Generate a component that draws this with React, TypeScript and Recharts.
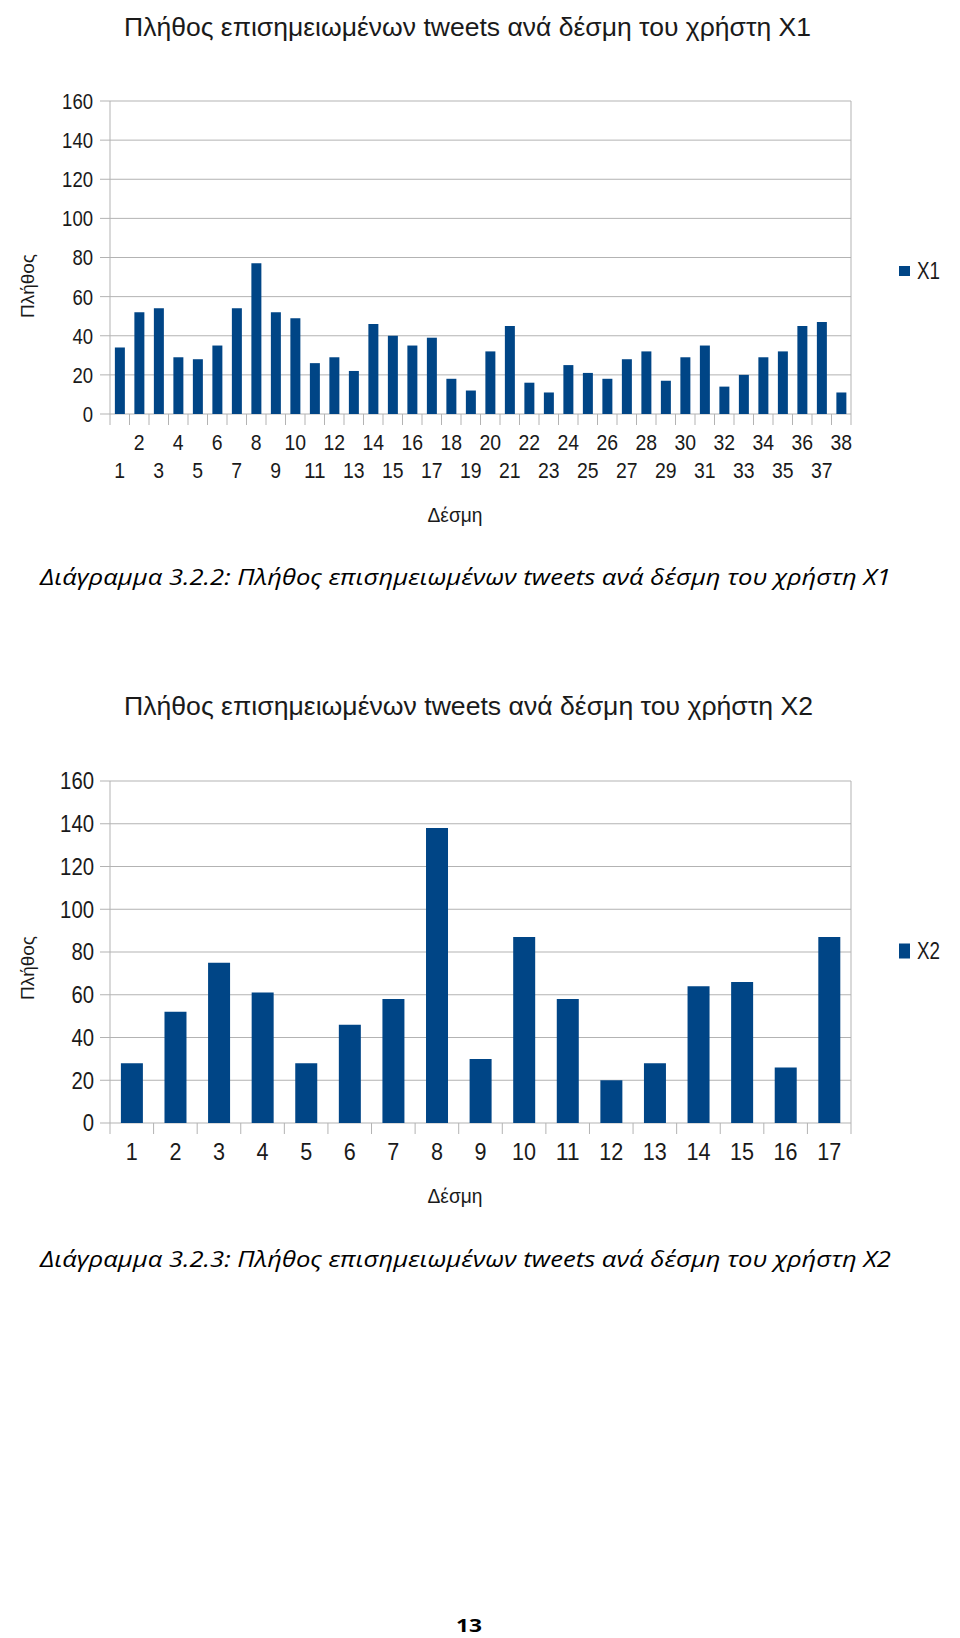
import React from 'react';
import { BarChart, Bar, XAxis, YAxis, CartesianGrid, Legend } from 'recharts';

// Batch numbers and tweet counts per user
const batchesX1 = ['1', '2', '3', '4', '5', '6', '7', '8', '9', '10', '11', '12', '13', '14', '15', '16', '17', '18', '19', '20', '21', '22', '23', '24', '25', '26', '27', '28', '29', '30', '31', '32', '33', '34', '35', '36', '37', '38'];
const countsX1 = [34, 52, 54, 29, 28, 35, 54, 77, 52, 49, 26, 29, 22, 46, 40, 35, 39, 18, 12, 32, 45, 16, 11, 25, 21, 18, 28, 32, 17, 29, 35, 14, 20, 29, 32, 45, 47, 11];

const batchesX2 = ['1', '2', '3', '4', '5', '6', '7', '8', '9', '10', '11', '12', '13', '14', '15', '16', '17'];
const countsX2 = [28, 52, 75, 61, 28, 46, 58, 138, 30, 87, 58, 20, 28, 64, 66, 26, 87];

const yTicks = [0, 20, 40, 60, 80, 100, 120, 140, 160];

const chartTitleX1 = 'Πλήθος επισημειωμένων tweets ανά δέσμη του χρήστη X1';
const chartTitleX2 = 'Πλήθος επισημειωμένων tweets ανά δέσμη του χρήστη X2';
const captionX1 = 'Διάγραμμα 3.2.2: Πλήθος επισημειωμένων tweets ανά δέσμη του χρήστη X1';
const captionX2 = 'Διάγραμμα 3.2.3: Πλήθος επισημειωμένων tweets ανά δέσμη του χρήστη X2';

const FONT = 'Liberation Sans';
const BAR_COLOR = '#004586';
const GRID = '#b3b3b3';
const INK = '#1a1a1a';
const PLOT_LEFT = 110;
const PLOT_RIGHT = 851;
const Y_AXIS_W = 60;
const X_AXIS_H = 40;

interface ChartProps {
  top: number;
  height: number;
  labels: string[];
  values: number[];
  name: string;
  plotTop: number;
  plotBottom: number;
  twoRows: boolean;
  rowBaselines: number[];
  tickFont: number;
  digitW: number;
  yFont: number;
  yDigitW: number;
  yLabelRight: number;
  xTitleBaseline: number;
  yTitleY: number;
  legendTop: number;
  legendSize: number;
}

const BatchChart: React.FC<ChartProps> = (p) => {
  const data = p.labels.map((l, i) => ({ batch: l, value: p.values[i] }));
  const n = p.labels.length;
  const band = (PLOT_RIGHT - PLOT_LEFT) / n;

  const XTick = (props: any) => {
    const { x, index, payload } = props;
    const text = String(payload.value);
    const row = p.twoRows ? (index % 2 === 0 ? 1 : 0) : 0;
    return (
      <g>
        <line x1={x - band / 2} x2={x - band / 2} y1={p.plotBottom} y2={p.plotBottom + 11} stroke={GRID} />
        {index === n - 1 && (
          <line x1={x + band / 2} x2={x + band / 2} y1={p.plotBottom} y2={p.plotBottom + 11} stroke={GRID} />
        )}
        <text
          x={x}
          y={p.rowBaselines[row]}
          textAnchor="middle"
          fontSize={p.tickFont}
          fontFamily={FONT}
          fill={INK}
          textLength={text.length * p.digitW}
          lengthAdjust="spacingAndGlyphs"
        >
          {text}
        </text>
      </g>
    );
  };

  const YTick = (props: any) => {
    const { y, payload } = props;
    const text = String(payload.value);
    return (
      <text
        x={p.yLabelRight}
        y={y + p.yFont * 0.36}
        textAnchor="end"
        fontSize={p.yFont}
        fontFamily={FONT}
        fill={INK}
        textLength={text.length * p.yDigitW}
        lengthAdjust="spacingAndGlyphs"
      >
        {text}
      </text>
    );
  };

  return (
    <div style={{ position: 'absolute', left: 0, top: p.top }}>
      <BarChart
        width={960}
        height={p.height}
        data={data}
        barCategoryGap="25%"
        margin={{
          top: p.plotTop,
          right: 960 - PLOT_RIGHT,
          left: PLOT_LEFT - Y_AXIS_W,
          bottom: p.height - p.plotBottom - X_AXIS_H,
        }}
      >
        <CartesianGrid stroke={GRID} vertical={true} verticalPoints={[PLOT_RIGHT]} />
        <XAxis
          dataKey="batch"
          interval={0}
          height={X_AXIS_H}
          axisLine={false}
          tickLine={false}
          tick={XTick}
          label={{
            content: () => (
              <text
                x={455}
                y={p.xTitleBaseline}
                textAnchor="middle"
                fontSize={20}
                fontFamily={FONT}
                fill={INK}
                textLength={55}
                lengthAdjust="spacingAndGlyphs"
              >
                Δέσμη
              </text>
            ),
          }}
        />
        <YAxis
          type="number"
          domain={[0, 160]}
          ticks={yTicks}
          interval={0}
          width={Y_AXIS_W}
          tickSize={10}
          axisLine={{ stroke: GRID }}
          tickLine={{ stroke: GRID }}
          tick={YTick}
          label={{
            content: () => (
              <text
                transform={`translate(34, ${p.yTitleY}) rotate(-90)`}
                textAnchor="middle"
                fontSize={19}
                fontFamily={FONT}
                fill={INK}
                textLength={64}
                lengthAdjust="spacingAndGlyphs"
              >
                Πλήθος
              </text>
            ),
          }}
        />
        <Legend
          layout="vertical"
          align="center"
          verticalAlign="middle"
          wrapperStyle={{ position: 'absolute', left: 896, top: p.legendTop, width: 60, height: 30 }}
          content={(lp: any) => {
            const item = lp.payload && lp.payload[0];
            return (
              <svg width={60} height={30}>
                <rect x={3} y={15 - p.legendSize / 2} width={11} height={p.legendSize} fill={BAR_COLOR} />
                <text
                  x={21}
                  y={23}
                  fontSize={24}
                  fontFamily={FONT}
                  fill={INK}
                  textLength={23}
                  lengthAdjust="spacingAndGlyphs"
                >
                  {item ? item.value : p.name}
                </text>
              </svg>
            );
          }}
        />
        <Bar dataKey="value" name={p.name} fill={BAR_COLOR} isAnimationActive={false} />
      </BarChart>
    </div>
  );
};

export default function App() {
  return (
    <div style={{ position: 'absolute', left: 0, top: 0, width: 960, height: 1638, background: '#fff' }}>
      <BatchChart
        top={0}
        height={540}
        labels={batchesX1}
        values={countsX1}
        name="X1"
        plotTop={101}
        plotBottom={414}
        twoRows={true}
        rowBaselines={[450, 478]}
        tickFont={22}
        digitW={10.8}
        yFont={22}
        yDigitW={10.3}
        yLabelRight={93}
        xTitleBaseline={522}
        yTitleY={286}
        legendTop={256}
        legendSize={10}
      />
      <BatchChart
        top={660}
        height={560}
        labels={batchesX2}
        values={countsX2}
        name="X2"
        plotTop={121}
        plotBottom={463}
        twoRows={false}
        rowBaselines={[500]}
        tickFont={23}
        digitW={12}
        yFont={23}
        yDigitW={11.3}
        yLabelRight={94}
        xTitleBaseline={543}
        yTitleY={308}
        legendTop={276}
        legendSize={15}
      />
      <svg width={960} height={1638} style={{ position: 'absolute', left: 0, top: 0, pointerEvents: 'none' }}>
        <text x={124} y={36} fontSize={25} fontFamily={FONT} fill={INK} textLength={687} lengthAdjust="spacingAndGlyphs">
          {chartTitleX1}
        </text>
        <text x={124} y={715} fontSize={25} fontFamily={FONT} fill={INK} textLength={689} lengthAdjust="spacingAndGlyphs">
          {chartTitleX2}
        </text>
        <text
          x={40}
          y={585}
          fontSize={21}
          fontStyle="italic"
          fontFamily='"Open Sans", "Noto Sans", sans-serif'
          fill="#000"
          textLength={851}
          lengthAdjust="spacingAndGlyphs"
        >
          {captionX1}
        </text>
        <text
          x={40}
          y={1267}
          fontSize={21}
          fontStyle="italic"
          fontFamily='"Open Sans", "Noto Sans", sans-serif'
          fill="#000"
          textLength={851}
          lengthAdjust="spacingAndGlyphs"
        >
          {captionX2}
        </text>
        <text
          x={469}
          y={1632}
          textAnchor="middle"
          fontSize={18}
          fontWeight="bold"
          fontFamily='"Open Sans", "Noto Sans", sans-serif'
          fill="#000"
          textLength={26}
          lengthAdjust="spacingAndGlyphs"
        >
          13
        </text>
      </svg>
    </div>
  );
}
